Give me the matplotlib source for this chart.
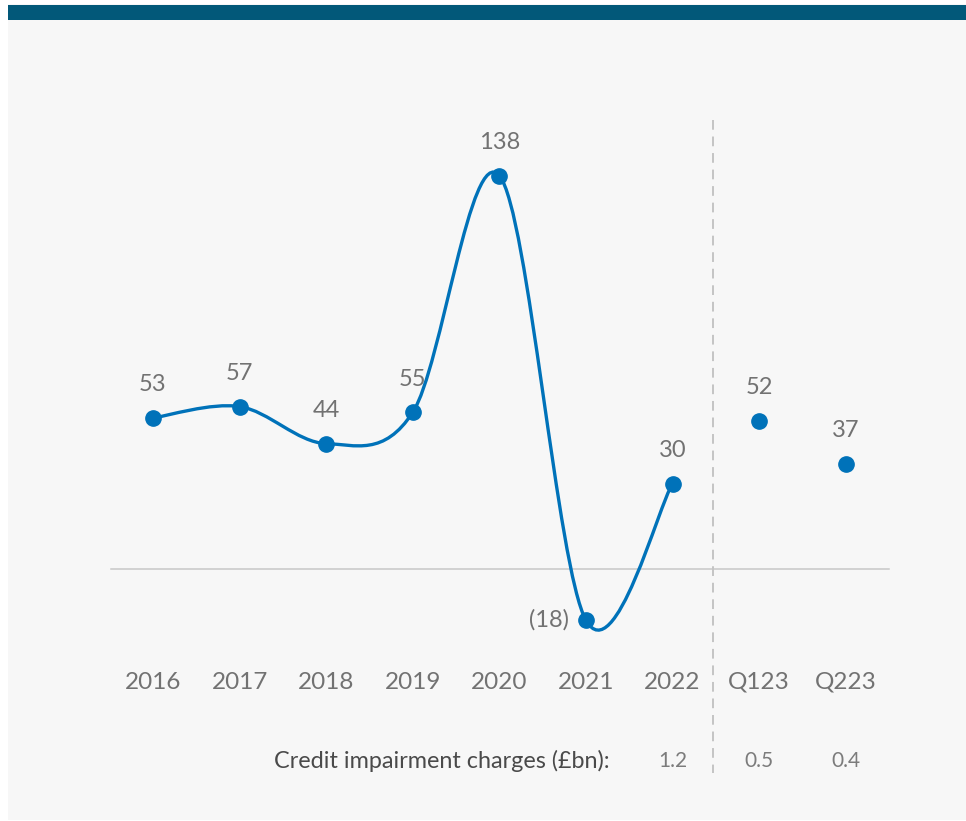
import matplotlib
matplotlib.use("Agg")
from matplotlib import pyplot as plt
from matplotlib.path import Path
from matplotlib.patches import PathPatch, Rectangle

# yearly series (joined by a smooth line) and the two quarters shown as dots
years = ['2016', '2017', '2018', '2019', '2020', '2021', '2022']
year_values = [53, 57, 44, 55, 138, -18, 30]
quarters = ['Q123', 'Q223']
quarter_values = [52, 37]
charge_labels = ['1.2', '0.5', '0.4']

BLUE = '#0072b9'
GREY_TXT = '#727272'

plt.rcParams['font.family'] = ['Lato', 'DejaVu Sans']

fig = plt.figure(figsize=(9.66, 8.21), dpi=100)
fig.patch.set_facecolor('white')
# grey panel and the dark band on top
fig.patches.append(Rectangle((8 / 966, 1 / 821), 1, 816 / 821, transform=fig.transFigure,
                             facecolor='#f7f7f7', edgecolor='none', zorder=-2))
fig.patches.append(Rectangle((8 / 966, 1 - 20 / 821), 1, 15 / 821, transform=fig.transFigure,
                             facecolor='#025879', edgecolor='none', zorder=-1))

ax = fig.add_axes([0, 0, 1, 1])
ax.set_zorder(2)
ax.set_facecolor('none')
ax.axis('off')

# pixel mapping: index 0 -> x=153px, step 86.6px; value 0 -> y=569px, 2.85px per unit
step, x0 = 86.6, 153
ppu, y0 = 2.85, 569
ax.set_xlim(-x0 / step, (966 - x0) / step)
ax.set_ylim((y0 - 821) / ppu, y0 / ppu)

labels = years + quarters
n_years = len(years)

# zero line and separator
ax.plot([(111 - x0) / step, (889 - x0) / step], [0, 0], color='#c8c8c8', lw=1.1, zorder=1)
sep_x = n_years - 0.5 + (713 - (x0 + step * 6.5)) / step
ax.plot([sep_x, sep_x], [(y0 - 120) / ppu, (y0 - 773) / ppu], color='#c4c4c4', lw=1.4,
        dashes=(5, 3.5), zorder=1)

# smooth cardinal (catmull-rom) curve through the yearly points
pts = list(zip(range(n_years), year_values))
verts = [pts[0]]
codes = [Path.MOVETO]
for i in range(n_years - 1):
    p_prev = pts[max(i - 1, 0)]
    p0, p1 = pts[i], pts[i + 1]
    p_next = pts[min(i + 2, n_years - 1)]
    c1 = (p0[0] + (p1[0] - p_prev[0]) / 6, p0[1] + (p1[1] - p_prev[1]) / 6)
    c2 = (p1[0] - (p_next[0] - p0[0]) / 6, p1[1] - (p_next[1] - p0[1]) / 6)
    verts += [c1, c2, p1]
    codes += [Path.CURVE4] * 3
ax.add_patch(PathPatch(Path(verts, codes), facecolor='none', edgecolor=BLUE, lw=2.4,
                       capstyle='round', zorder=2))

all_values = year_values + quarter_values
ax.plot(range(len(all_values)), all_values, 'o', color=BLUE, ms=11, zorder=3)

for i, v in enumerate(all_values):
    if v < 0:
        ax.text(i - 0.2, v, f'({-v})', ha='right', va='center', fontsize=17, color=GREY_TXT)
    else:
        ax.text(i, v + 33 / ppu, str(v), ha='center', va='center', fontsize=17, color=GREY_TXT)

tick_y = (y0 - 682) / ppu
for i, lab in enumerate(labels):
    ax.text(i, tick_y, lab, ha='center', va='center', fontsize=17.5, color=GREY_TXT)

row_y = (y0 - 761) / ppu
ax.text((610 - x0) / step, row_y, 'Credit impairment charges (£bn):', ha='right', va='center',
        fontsize=16.8, color='#4a4a4a')
for i, lab in zip(range(n_years - 1, len(labels)), charge_labels):
    ax.text(i, row_y, lab, ha='center', va='center', fontsize=15, color='#7c7c7c')

fig.savefig('out.png', dpi=100, facecolor=fig.get_facecolor())
